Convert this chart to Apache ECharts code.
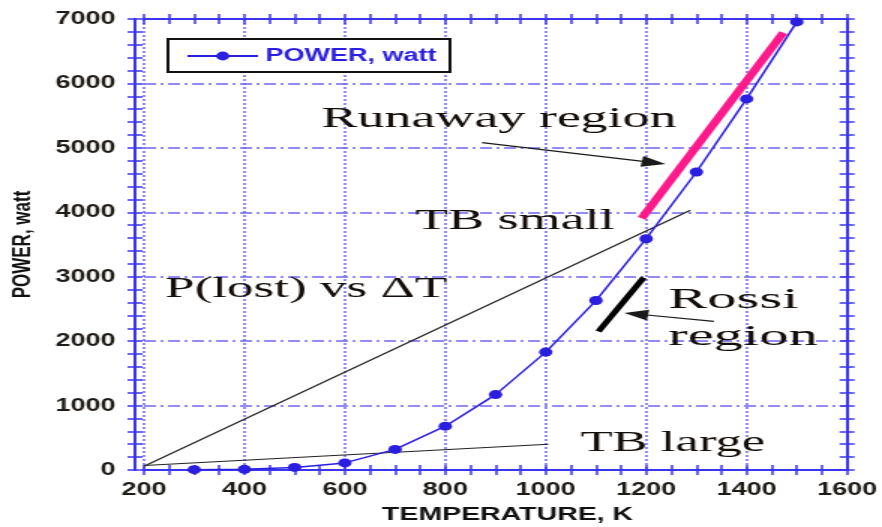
<!DOCTYPE html>
<html>
<head>
<meta charset="utf-8">
<script src="https://cdn.jsdelivr.net/npm/echarts@6/dist/echarts.min.js"></script>
<style>
html,body{margin:0;padding:0;background:#fff;overflow:hidden;}
#c{width:588px;height:527px;transform:scaleX(1.5);transform-origin:0 0;}
</style>
</head>
<body>
<div id="c"></div>
<script>
// ---- data ----
const temperatures = [300, 400, 500, 600, 700, 800, 900, 1000, 1100, 1200, 1300, 1400, 1500];
const powerWatt = [5, 10, 40, 110, 320, 680, 1170, 1830, 2630, 3590, 4625, 5760, 6955];
const xRange = [200, 1600];
const yRange = [0, 7000];
const xStep = 200;
const yStep = 1000;
const pLostLine = [[200, 60], [1288, 4030]];
const tbLargeLine = [[200, 70], [1005, 400]];
const runawaySegment = [[1191, 3905], [1473, 6790]];
const rossiSegment = [[1105, 2150], [1195, 2985]];
const runawayArrow = [[873, 5080], [1215, 4770]];
const rossiArrow = [[1335, 2306], [1180, 2421]];
const annotationTexts = ['Runaway region', 'TB small', 'P(lost) vs \u0394T', 'Rossi', 'region', 'TB large'];
const annotationAnchors = [[553, 5443], [740, 3857], [242, 2800], [1244, 2644], [1244, 2068], [1069, 420]];

// ---- styles ----
const BLUE_AXIS = '#3b35f2';
const GRID_C = '#6e66f0';
const SERIES_C = '#2a1ee0';
const sans = '"Liberation Sans", Arial, sans-serif';
const narrow = '"Liberation Sans Narrow", "Arial Narrow", "Liberation Sans", sans-serif';
const annScale = [1.2, 1.2, 1.18, 1.3, 1.3, 1.17];

const chart = echarts.init(document.getElementById('c'), null, {renderer: 'canvas'});

function mkX(pos, inside, main) {
  return {
    type: 'value', position: pos, min: xRange[0], max: xRange[1], interval: xStep,
    axisLine: {show: true, onZero: false, lineStyle: {color: BLUE_AXIS, width: 2}},
    axisTick: {show: true, inside: inside, length: 5, lineStyle: {color: BLUE_AXIS, width: 1.5}},
    minorTick: {show: true, splitNumber: 4, length: 5, lineStyle: {color: BLUE_AXIS, width: 1.5}},
    axisLabel: main ? {show: true, margin: 11, color: '#1e1a16', fontFamily: sans, fontWeight: 'bold', fontSize: 18,
      formatter: v => String(v)} : {show: false},
    splitLine: main ? {show: true, lineStyle: {color: GRID_C, width: 1.5, type: [2, 2]}} : {show: false},
    name: main ? 'TEMPERATURE, K' : '',
    nameLocation: 'middle', nameGap: 35,
    nameTextStyle: {color: '#111', fontFamily: narrow, fontWeight: 'bold', fontSize: 19, padding: [0, 0, 0, 16]}
  };
}
function mkY(pos, inside, main) {
  return {
    type: 'value', position: pos, min: yRange[0], max: yRange[1], interval: yStep,
    offset: pos === 'left' ? 6 : 0,
    axisLine: {show: true, onZero: false, lineStyle: {color: BLUE_AXIS, width: 2}},
    axisTick: {show: true, inside: inside, length: 5, lineStyle: {color: BLUE_AXIS, width: 1.5}},
    minorTick: {show: true, splitNumber: 5, length: 5, lineStyle: {color: BLUE_AXIS, width: 1.5}},
    axisLabel: main ? {show: true, margin: 13, color: '#1e1a16', fontFamily: sans, fontWeight: 'bold', fontSize: 18,
      formatter: v => String(v)} : {show: false},
    splitLine: main ? {show: true, lineStyle: {color: GRID_C, width: 1.5, type: [8, 3, 2, 3]}} : {show: false},
    name: main ? 'POWER, watt' : '',
    nameLocation: 'middle', nameGap: 66, nameRotate: 90,
    nameTextStyle: {color: '#111', fontFamily: sans, fontWeight: 'bold', fontSize: 17}
  };
}

function plain(name, pts, color, width) {
  return {
    name: name, type: 'line', data: pts, showSymbol: false, symbol: 'none', silent: true,
    lineStyle: {color: color, width: width}, z: 3, animation: false
  };
}
function arrow(name, pts) {
  return {
    name: name, type: 'line', data: [], silent: true,
    markLine: {
      silent: true, symbol: ['none', 'triangle'], symbolSize: [11, 16],
      lineStyle: {color: '#1a1a1a', width: 1.2, type: 'solid'},
      itemStyle: {color: '#1a1a1a'},
      label: {show: false}, emphasis: {disabled: true}, animation: false,
      data: [[{coord: pts[0]}, {coord: pts[1]}]]
    }
  };
}

chart.setOption({
  animation: false,
  backgroundColor: '#fff',
  grid: {left: 96, right: 23.3, top: 19, bottom: 57, containLabel: false, outerBoundsMode: 'none'},
  legend: {
    data: ['POWER, watt'], left: 112, top: 39,
    backgroundColor: '#fff', borderColor: '#111', borderWidth: 2,
    padding: [8, 9, 7, 12], itemWidth: 47, itemHeight: 11,
    textStyle: {color: SERIES_C, fontFamily: sans, fontWeight: 'bold', fontSize: 18}
  },
  xAxis: [mkX('bottom', false, true), mkX('bottom', true, false), mkX('top', false, false), mkX('top', true, false)],
  yAxis: [mkY('left', false, true), mkY('left', true, false), mkY('right', false, false), mkY('right', true, false)],
  series: [
    plain('pl', pLostLine, '#222', 1.2),
    plain('tbl', tbLargeLine, '#222', 1.2),
    plain('run', runawaySegment, '#ff1a8c', 6),
    plain('ros', rossiSegment, '#000', 4.5),
    arrow('arr1', runawayArrow),
    arrow('arr2', rossiArrow),
    {
      name: 'POWER, watt', type: 'line',
      data: temperatures.map((t, i) => [t, powerWatt[i]]),
      symbol: 'circle', symbolSize: 9, showSymbol: true,
      itemStyle: {color: SERIES_C},
      lineStyle: {color: SERIES_C, width: 1.5}, z: 5
    }
  ]
});

const g = annotationTexts.map((t, i) => {
  const p = chart.convertToPixel({xAxisIndex: 0, yAxisIndex: 0}, annotationAnchors[i]);
  return {
    type: 'text', x: p[0], y: p[1], scaleX: annScale[i], z: 10, silent: true,
    style: {text: t, fill: '#140e0a', font: '30px "Liberation Serif", "Times New Roman", serif',
      textAlign: 'left', textVerticalAlign: 'middle'}
  };
});
chart.setOption({graphic: g});
</script>
</body>
</html>
